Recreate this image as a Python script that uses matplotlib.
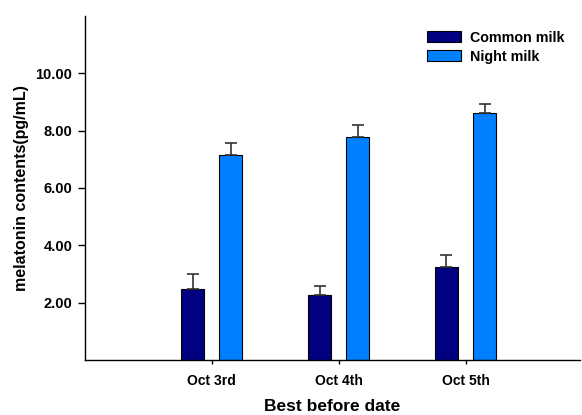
import matplotlib
matplotlib.use("Agg")
import matplotlib.pyplot as plt
import numpy as np

# values
dates = ["Oct 3rd", "Oct 4th", "Oct 5th"]
common_milk = [2.46, 2.27, 3.23]
common_err = [0.53, 0.31, 0.44]
night_milk = [7.15, 7.79, 8.63]
night_err = [0.43, 0.41, 0.30]
yticks = [2, 4, 6, 8, 10]

plt.rcParams['font.family'] = ['Liberation Sans', 'DejaVu Sans']
plt.rcParams['font.weight'] = 'bold'

fig = plt.figure(figsize=(5.82, 4.15), dpi=100)
ax = fig.add_axes([0.146, 0.1325, 0.85, 0.829])

x = np.arange(1, len(dates) + 1)
w = 0.18
err_kw = dict(ecolor='#333333', elinewidth=1.2, capsize=4, capthick=1.2)

ax.bar(x - 0.15, common_milk, w, color='#000080', edgecolor='black', linewidth=0.8,
       yerr=[np.zeros(3), common_err], error_kw=err_kw, label='Common milk')
ax.bar(x + 0.15, night_milk, w, color='#0080FF', edgecolor='black', linewidth=0.8,
       yerr=[np.zeros(3), night_err], error_kw=err_kw, label='Night milk')

ax.set_xlim(0, 3.9)
ax.set_ylim(0, 12)
ax.set_xticks(x)
ax.set_xticklabels(dates, fontsize=10, fontweight='bold')
ax.set_yticks(yticks)
ax.set_yticklabels(['%.2f' % v for v in yticks], fontsize=10.5, fontweight='bold')
ax.tick_params(axis='y', length=5, width=1, pad=4)
ax.tick_params(axis='x', length=3, width=1, pad=7)

for s in ['top', 'right']:
    ax.spines[s].set_visible(False)
for s in ['left', 'bottom']:
    ax.spines[s].set_linewidth(1)

ax.set_ylabel('melatonin contents(pg/mL)', fontsize=11.5, fontweight='bold', labelpad=5)
ax.set_xlabel('Best before date', fontsize=12.5, fontweight='bold', labelpad=8)

ax.legend(loc='upper left', bbox_to_anchor=(0.665, 0.995), frameon=False,
          handlelength=2.4, handleheight=0.75, handletextpad=0.6, labelspacing=0.35,
          prop={'weight': 'bold', 'size': 10.3})

fig.savefig('out.png', dpi=100)
